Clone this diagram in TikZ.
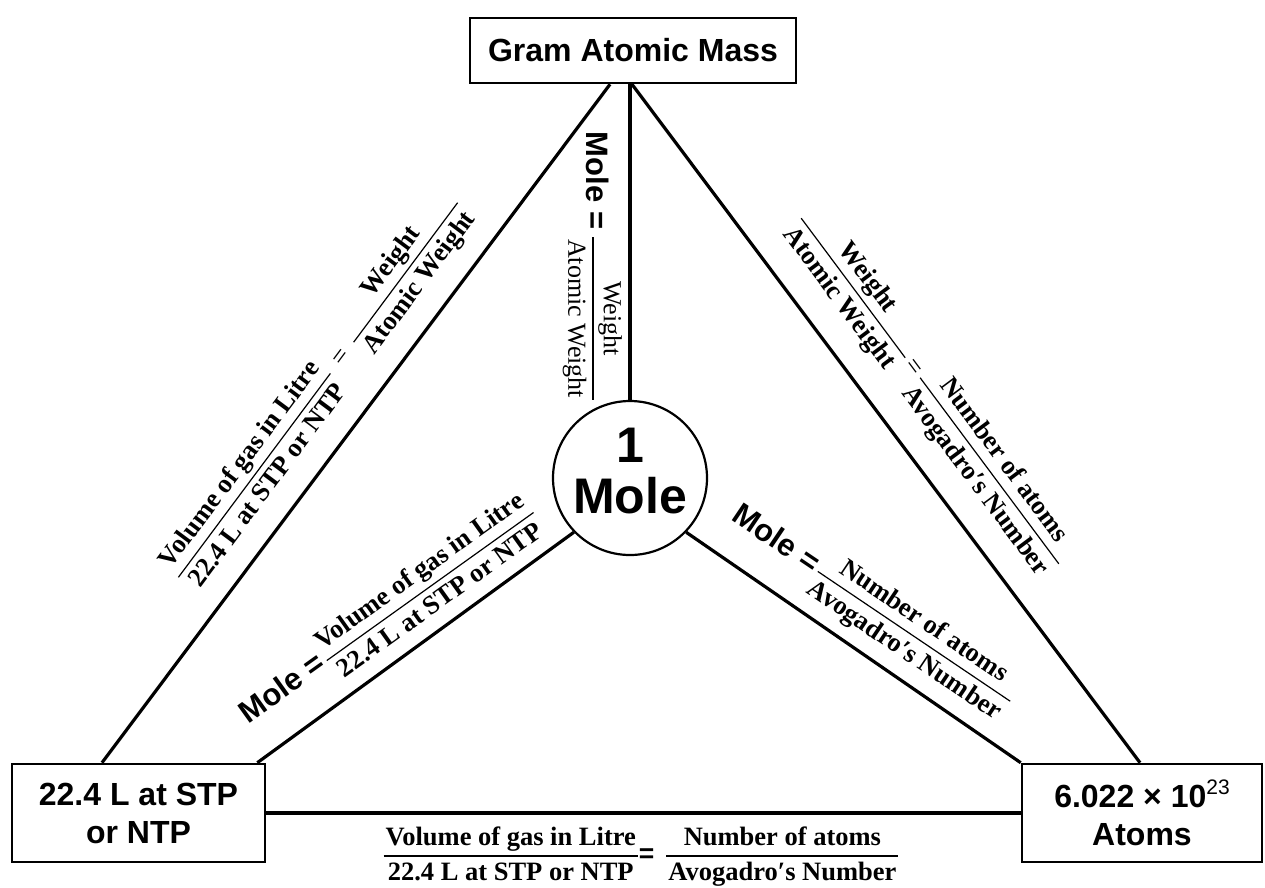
\documentclass[tikz,border=0pt]{standalone}
\usepackage{fontspec}
\setmainfont{Liberation Serif}
\setsansfont{Liberation Sans}
\usepackage{array}
\setlength\arrayrulewidth{1.2pt}
\renewcommand\arraystretch{1.22}
\newcommand\fr[2]{\begin{tabular}[c]{@{\hspace{2pt}}c@{\hspace{2pt}}}#1\\\hline#2\end{tabular}}
\newcommand\molet{{\sffamily\bfseries\fontsize{31}{31}\selectfont Mole =}}
\begin{document}
\begin{tikzpicture}[x=1pt,y=-1pt,
  box/.style={draw,line width=2.6pt,inner sep=0pt,align=center,font=\sffamily\bfseries\fontsize{32}{38}\selectfont},
  conn/.style={line width=3.2pt},
  lbl/.style={inner sep=0pt,font=\rmfamily\bfseries\fontsize{26.5}{28}\selectfont}]
\useasboundingbox (0,0) rectangle (1265,887);
% boxes
\node[box,minimum width=326pt,minimum height=65pt] (gam) at (633,50.5) {Gram Atomic Mass};
\node[box,minimum width=253pt,minimum height=98pt] (stp) at (138.5,813) {22.4 L at STP\\or NTP};
\node[box,minimum width=240pt,minimum height=98pt] (atm) at (1142,813) {6.022 × 10\raisebox{0.42em}{\mdseries\fontsize{21}{21}\selectfont 23}\\Atoms};
% circle
\node[circle,draw,line width=2.2pt,minimum size=154pt,inner sep=0pt] (mole) at (630,478) {};
\node[inner sep=0pt,align=center,font=\sffamily\bfseries\fontsize{50}{51}\selectfont] (moletext) at (630,471) {1\\Mole};
% connectors
\draw[conn] ([xshift=-23pt]gam.south) -- ([xshift=-36.5pt]stp.north);
\draw[conn] (gam.south -| mole.north) -- (mole.north);
\draw[conn] ([xshift=-1pt]gam.south) -- ([xshift=-2pt]atm.north);
\draw[conn] ([xshift=-9pt]stp.north east) -- (mole.-136);
\draw[conn] (atm.north west) -- (mole.-44);
\draw[conn] (stp.east) -- (atm.west);
% labels
\node[lbl,rotate=53.3] (la) at (318,390) {\fr{Volume of gas in Litre}{22.4 L at STP or NTP}\hspace{12pt}{\mdseries=}\hspace{12pt}\fr{Weight}{Atomic Weight}};
\node[lbl,rotate=-53.3] (lb) at (930,391) {\fr{Weight}{Atomic Weight}\hspace{5pt}{\mdseries=}\hspace{5pt}\fr{Number of atoms}{Avogadro′s Number}};
\node[lbl,rotate=-90,font=\rmfamily\mdseries\fontsize{26}{28}\selectfont] (lc) at (593,266) {\molet\hspace{8pt}\fr{Weight}{Atomic Weight}};
\node[lbl,rotate=35.6] (ld) at (389,616) {\molet\hspace{4pt}\fr{Volume of gas in Litre}{22.4 L at STP or NTP}};
\node[lbl,rotate=-34] (le) at (872,608) {\molet\hspace{4pt}\fr{Number of atoms}{Avogadro′s Number}};
\node[lbl] (lf) at (641,856) {\fr{Volume of gas in Litre}{22.4 L at STP or NTP}\hspace{1pt}{\sffamily\bfseries=}\hspace{12pt}\fr{Number of atoms}{Avogadro′s Number}};
\end{tikzpicture}
\end{document}
